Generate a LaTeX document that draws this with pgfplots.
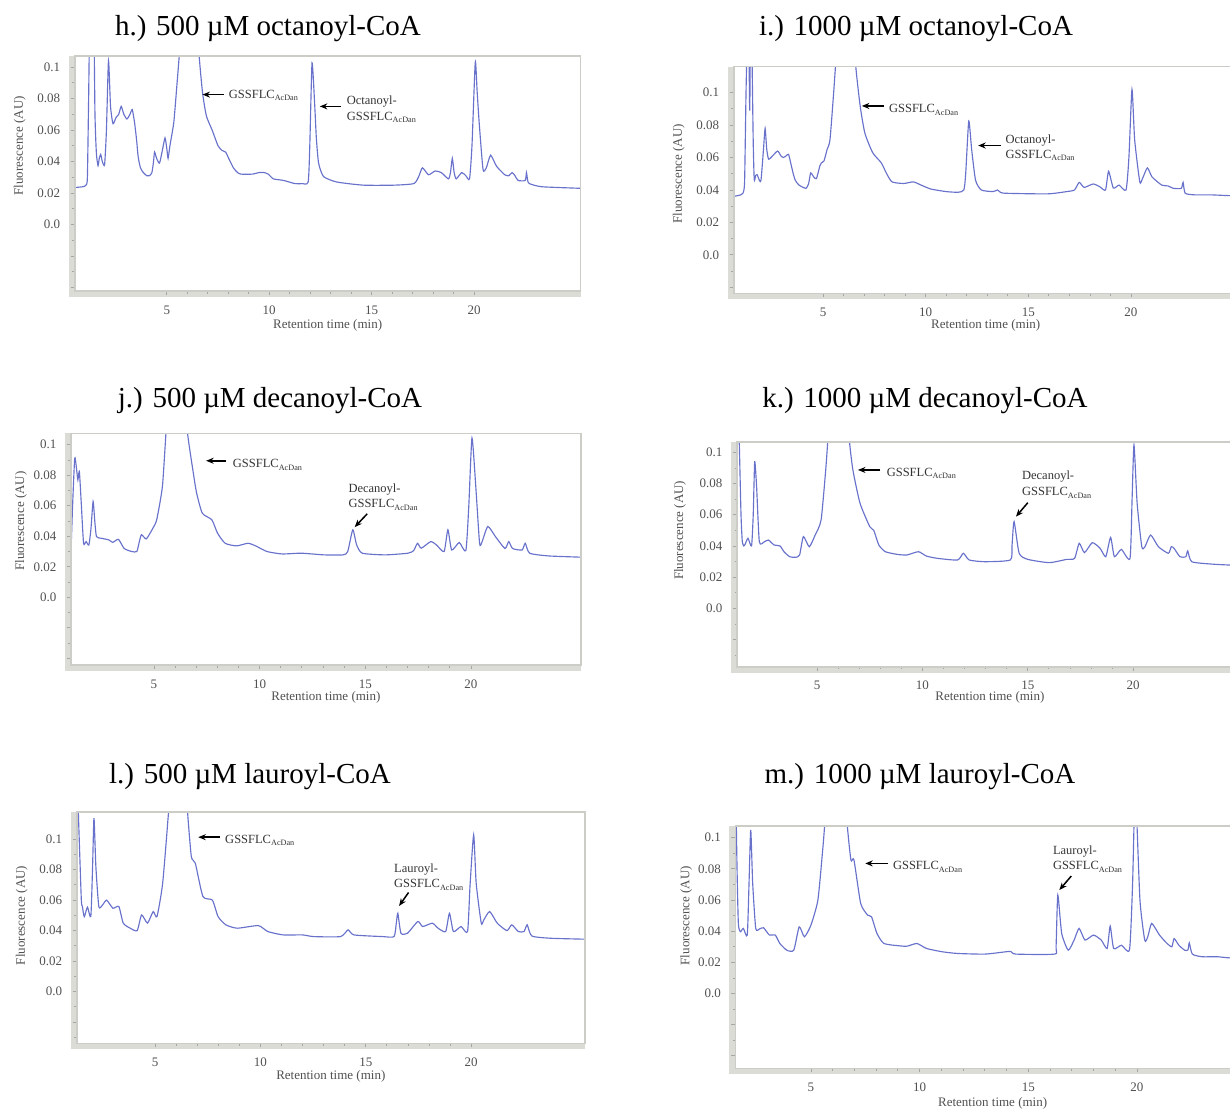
\documentclass[border=0pt]{standalone}
\usepackage{fontspec}
\setmainfont{Liberation Serif}
\usepackage{pgfplots}
\pgfplotsset{compat=1.18}
\usetikzlibrary{arrows.meta}
\definecolor{trace}{RGB}{105,114,203}
\definecolor{frame}{RGB}{205,205,200}
\definecolor{band}{RGB}{220,220,214}
\definecolor{lab}{RGB}{80,80,80}
\pgfplotsset{
 chrom/.style={
  scale only axis, anchor=north west, clip mode=individual, axis on top,
  axis line style={draw=frame, line width=1.6pt},
  tick pos=left, tick align=outside,
  xtick={5,10,15,20}, minor x tick num=4,
  ytick={-0.04,-0.02,0,0.02,0.04,0.06,0.08,0.1},
  yticklabels={{},{},0.0,0.02,0.04,0.06,0.08,0.1},
  minor y tick num=1,
  major tick length=4pt, minor tick length=2.5pt,
  tick style={draw=black!35, line width=0.8pt},
  tick label style={font=\fontsize{13}{15}\selectfont, text=lab},
  /pgf/number format/assume math mode=true,
  xticklabel style={yshift=-7pt},
  yticklabel style={xshift=-7pt},
 },
 tr/.style={draw=trace, line width=1.15pt, no marks, smooth, tension=0.35},
}
\tikzset{
 arr/.style={-{Stealth[length=7.5pt,width=6pt]}, line width=1.5pt, black},
 ann/.style={font=\fontsize{12.5}{14}\selectfont, text=black!80, anchor=west, inner sep=0pt},
 ttl/.style={font=\fontsize{29}{32}\selectfont, anchor=base},
 lbl/.style={font=\fontsize{13}{15}\selectfont, text=lab},
}
\newcommand\gss{GSSFLC\raisebox{-2.5pt}{\fontsize{8.2}{9}\selectfont AcDan}}
\begin{document}
\begin{tikzpicture}
\useasboundingbox (0,0) rectangle (1230pt,-1110pt);
% titles
\node[ttl] at (268pt,-36pt) {h.) 500 µM octanoyl-CoA};
\node[ttl] at (916pt,-36pt) {i.) 1000 µM octanoyl-CoA};
\node[ttl] at (270pt,-407pt) {j.) 500 µM decanoyl-CoA};
\node[ttl] at (925pt,-407pt) {k.) 1000 µM decanoyl-CoA};
\node[ttl] at (250pt,-783pt) {l.) 500 µM lauroyl-CoA};
\node[ttl] at (920pt,-783pt) {m.) 1000 µM lauroyl-CoA};

% ---------- h ----------
\begin{axis}[chrom, at={(74.7pt,-56pt)}, width=505.8pt, height=235pt,
  xmin=0.5, xmax=25.2, ymin=-0.0422, ymax=0.107]
\fill[band] ([xshift=-6pt,yshift=-6pt]rel axis cs:0,0) rectangle (rel axis cs:0,1);
\fill[band] ([xshift=-6pt,yshift=-6pt]rel axis cs:0,0) rectangle (rel axis cs:1,0);
\addplot[tr] coordinates {(0.5,0.0235)(0.9,0.024)(1.05,0.025)(1.12,0.03)(1.18,0.08)(1.25,0.14)(1.42,0.14)(1.49,0.07)(1.56,0.045)(1.64,0.0374)(1.7,0.042)(1.77,0.0445)(1.85,0.04)(1.96,0.038)(2.05,0.06)(2.15,0.104)(2.25,0.075)(2.37,0.064)(2.52,0.068)(2.65,0.07)(2.77,0.075)(2.9,0.07)(3.05,0.067)(3.2,0.07)(3.31,0.073)(3.42,0.065)(3.52,0.054)(3.6,0.043)(3.71,0.036)(3.85,0.033)(4.02,0.031)(4.15,0.031)(4.27,0.033)(4.35,0.04)(4.40,0.046)(4.5,0.042)(4.64,0.039)(4.78,0.047)(4.91,0.055)(5.0,0.048)(5.06,0.042)(5.15,0.05)(5.34,0.065)(5.5,0.09)(5.62,0.11)(5.8,0.15)(6.4,0.15)(6.56,0.11)(6.74,0.084)(6.93,0.069)(7.21,0.060)(7.5,0.050)(7.7,0.047)(7.87,0.046)(8.02,0.042)(8.25,0.036)(8.45,0.033)(8.62,0.032)(9.18,0.032)(9.5,0.033)(9.75,0.033)(9.95,0.032)(10.2,0.029)(10.7,0.028)(11.25,0.026)(11.6,0.026)(11.9,0.027)(11.98,0.05)(12.09,0.1026)(12.22,0.076)(12.3,0.055)(12.41,0.039)(12.65,0.0305)(13.3,0.027)(14.6,0.025)(16.1,0.025)(17.06,0.026)(17.3,0.0305)(17.48,0.036)(17.78,0.0316)(18.1,0.034)(18.4,0.033)(18.75,0.029)(18.85,0.033)(18.94,0.042)(19.03,0.033)(19.13,0.029)(19.4,0.033)(19.6,0.031)(19.78,0.029)(19.9,0.05)(20.06,0.103)(20.15,0.085)(20.25,0.065)(20.44,0.035)(20.6,0.036)(20.81,0.044)(21.1,0.037)(21.5,0.0316)(21.7,0.031)(21.86,0.033)(22.0,0.031)(22.15,0.028)(22.5,0.028)(22.56,0.033)(22.62,0.028)(22.7,0.026)(23.3,0.024)(25.2,0.023)};
\node[lbl, xshift=-55pt, rotate=90] at ({rel axis cs:0,0}|-{axis cs:5,0.05}) {Fluorescence (AU)};
\node[lbl] at ([yshift=-34pt]rel axis cs:0.5,0) {Retention time (min)};
\draw[arr] (axis cs:7.78,0.0825) -- (axis cs:6.74,0.0825);
\node[ann] at (axis cs:8.02,0.082) {\gss};
\draw[arr] (axis cs:13.5,0.075) -- (axis cs:12.47,0.075);
\node[ann] at (axis cs:13.78,0.078) {Octanoyl-};
\node[ann] at (axis cs:13.78,0.068) {\gss};
\end{axis}

% ---------- i ----------
\begin{axis}[chrom, at={(733.7pt,-66.7pt)}, width=504pt, height=226.6pt,
  xmin=0.65, xmax=25.2, ymin=-0.0237, ymax=0.116]
\fill[band] ([xshift=-6pt,yshift=-6pt]rel axis cs:0,0) rectangle (rel axis cs:0,1);
\fill[band] ([xshift=-6pt,yshift=-6pt]rel axis cs:0,0) rectangle (rel axis cs:1,0);
\addplot[tr] coordinates {(0.65,0.036)(1.0,0.037)(1.1,0.038)(1.18,0.045)(1.25,0.10)(1.32,0.14)(1.38,0.14)(1.43,0.089)(1.47,0.14)(1.52,0.14)(1.6,0.07)(1.65,0.0464)(1.72,0.049)(1.79,0.0495)(1.9,0.046)(1.98,0.046)(2.1,0.065)(2.18,0.078)(2.26,0.065)(2.35,0.059)(2.54,0.061)(2.79,0.064)(2.95,0.061)(3.07,0.060)(3.2,0.061)(3.32,0.062)(3.42,0.057)(3.54,0.0505)(3.65,0.046)(3.83,0.043)(4.17,0.041)(4.3,0.044)(4.40,0.0505)(4.55,0.048)(4.68,0.047)(4.85,0.055)(4.92,0.0567)(5.05,0.058)(5.2,0.065)(5.34,0.071)(5.53,0.102)(5.68,0.13)(5.8,0.15)(6.45,0.15)(6.59,0.117)(6.81,0.0918)(7.04,0.075)(7.42,0.063)(7.84,0.0567)(8.08,0.0505)(8.36,0.045)(8.93,0.044)(9.4,0.045)(9.78,0.043)(10.25,0.0406)(11.0,0.039)(11.58,0.0386)(11.86,0.040)(11.95,0.05)(12.1,0.0825)(12.24,0.065)(12.43,0.046)(12.71,0.040)(13.28,0.039)(13.5,0.040)(13.6,0.039)(13.85,0.038)(15.93,0.0376)(16.87,0.039)(17.25,0.040)(17.48,0.0447)(17.72,0.0416)(18.16,0.0437)(18.48,0.042)(18.76,0.040)(18.91,0.0515)(19.14,0.0412)(19.42,0.043)(19.76,0.040)(19.9,0.06)(20.05,0.102)(20.18,0.071)(20.43,0.045)(20.56,0.047)(20.8,0.0536)(21.03,0.048)(21.5,0.043)(21.8,0.0425)(22.07,0.041)(22.45,0.041)(22.54,0.0447)(22.64,0.038)(23.1,0.037)(23.87,0.037)(24.8,0.0365)(25.4,0.0365)};
\node[lbl, xshift=-55pt, rotate=90] at ({rel axis cs:0,0}|-{axis cs:5,0.05}) {Fluorescence (AU)};
\node[lbl] at ([yshift=-32pt]rel axis cs:0.5,0) {Retention time (min)};
\draw[arr] (axis cs:7.99,0.0918) -- (axis cs:6.89,0.0918);
\node[ann] at (axis cs:8.21,0.0893) {\gss};
\draw[arr] (axis cs:13.66,0.0674) -- (axis cs:12.56,0.0674);
\node[ann] at (axis cs:13.88,0.0705) {Octanoyl-};
\node[ann] at (axis cs:13.88,0.0612) {\gss};
\end{axis}

% ---------- j ----------
\begin{axis}[chrom, at={(70.9pt,-433.3pt)}, width=509.9pt, height=231.7pt,
  xmin=1.07, xmax=25.2, ymin=-0.0444, ymax=0.1075]
\fill[band] ([xshift=-6pt,yshift=-6pt]rel axis cs:0,0) rectangle (rel axis cs:0,1);
\fill[band] ([xshift=-6pt,yshift=-6pt]rel axis cs:0,0) rectangle (rel axis cs:1,0);
\addplot[tr] coordinates {(1.07,0.0278)(1.15,0.06)(1.25,0.0912)(1.33,0.085)(1.40,0.077)(1.47,0.0825)(1.56,0.0617)(1.67,0.0354)(1.79,0.0365)(1.92,0.0343)(2.02,0.045)(2.12,0.0628)(2.2,0.05)(2.28,0.0398)(2.51,0.0387)(2.87,0.0376)(3.05,0.036)(3.32,0.038)(3.59,0.032)(3.95,0.030)(4.19,0.030)(4.3,0.036)(4.41,0.041)(4.64,0.0383)(4.95,0.0453)(5.13,0.0508)(5.40,0.0726)(5.58,0.11)(5.8,0.15)(6.4,0.15)(6.57,0.11)(6.84,0.0836)(7.02,0.0683)(7.29,0.0551)(7.74,0.0508)(8.01,0.042)(8.37,0.0354)(8.91,0.0337)(9.45,0.0354)(9.81,0.0337)(10.35,0.030)(11.07,0.0284)(11.97,0.0289)(13.05,0.0278)(13.95,0.0278)(14.17,0.030)(14.41,0.0442)(14.59,0.0344)(14.86,0.0289)(15.94,0.0278)(17.02,0.0289)(17.29,0.0306)(17.47,0.0354)(17.65,0.0322)(18.1,0.0365)(18.37,0.0343)(18.73,0.030)(18.91,0.0442)(19.09,0.031)(19.45,0.0359)(19.76,0.0306)(19.9,0.06)(20.05,0.1044)(20.23,0.0726)(20.41,0.0354)(20.53,0.0365)(20.8,0.0464)(21.16,0.0398)(21.61,0.032)(21.79,0.0365)(21.97,0.032)(22.42,0.031)(22.57,0.0354)(22.78,0.0289)(23.68,0.0271)(25.2,0.0263)};
\node[lbl, xshift=-50pt, rotate=90] at ({rel axis cs:0,0}|-{axis cs:5,0.05}) {Fluorescence (AU)};
\node[lbl] at ([yshift=-32pt]rel axis cs:0.5,0) {Retention time (min)};
\draw[arr] (axis cs:8.41,0.0895) -- (axis cs:7.47,0.0895);
\node[ann] at (axis cs:8.73,0.0869) {\gss};
\node[ann] at (axis cs:14.2,0.0709) {Decanoyl-};
\node[ann] at (axis cs:14.2,0.0606) {\gss};
\draw[arr] (axis cs:15.09,0.0547) -- (axis cs:14.5,0.046);
\end{axis}

% ---------- k ----------
\begin{axis}[chrom, at={(737pt,-441.7pt)}, width=505.7pt, height=225pt,
  xmin=1.2, xmax=25.2, ymin=-0.0374, ymax=0.1068]
\fill[band] ([xshift=-6pt,yshift=-6pt]rel axis cs:0,0) rectangle (rel axis cs:0,1);
\fill[band] ([xshift=-6pt,yshift=-6pt]rel axis cs:0,0) rectangle (rel axis cs:1,0);
\addplot[tr] coordinates {(1.2,0.15)(1.3,0.11)(1.39,0.06)(1.45,0.043)(1.52,0.040)(1.57,0.0406)(1.72,0.0449)(1.89,0.040)(1.97,0.06)(2.04,0.094)(2.13,0.078)(2.26,0.0427)(2.5,0.0427)(2.69,0.0438)(2.96,0.0406)(3.24,0.040)(3.43,0.0363)(3.7,0.0331)(3.98,0.0327)(4.17,0.0342)(4.35,0.046)(4.63,0.0395)(4.91,0.047)(5.19,0.0566)(5.41,0.0887)(5.52,0.11)(5.7,0.15)(6.4,0.15)(6.52,0.11)(6.70,0.0887)(7.04,0.0673)(7.5,0.0524)(7.69,0.050)(7.93,0.0406)(8.24,0.0363)(8.8,0.0346)(9.26,0.0342)(9.81,0.0363)(10.19,0.0335)(10.74,0.032)(11.67,0.031)(11.94,0.0353)(12.22,0.031)(12.96,0.0299)(14.17,0.031)(14.25,0.04)(14.35,0.0556)(14.59,0.0353)(15.0,0.0314)(16.02,0.0293)(16.85,0.0314)(17.22,0.032)(17.44,0.0417)(17.69,0.0357)(18.06,0.0421)(18.43,0.0385)(18.7,0.0331)(18.93,0.0455)(19.11,0.0331)(19.44,0.0378)(19.85,0.032)(19.95,0.07)(20.04,0.1047)(20.19,0.0673)(20.41,0.0395)(20.56,0.0395)(20.83,0.047)(21.2,0.0395)(21.67,0.0353)(21.81,0.0395)(21.94,0.0385)(22.22,0.0331)(22.5,0.0331)(22.59,0.0368)(22.78,0.0299)(23.7,0.0284)(24.5,0.0278)(25.4,0.0275)};
\node[lbl, xshift=-57pt, rotate=90] at ({rel axis cs:0,0}|-{axis cs:5,0.05}) {Fluorescence (AU)};
\node[lbl] at ([yshift=-31pt]rel axis cs:0.5,0) {Retention time (min)};
\draw[arr] (axis cs:8.0,0.0887) -- (axis cs:6.94,0.0887);
\node[ann] at (axis cs:8.3,0.0865) {\gss};
\node[ann] at (axis cs:14.72,0.0844) {Decanoyl-};
\node[ann] at (axis cs:14.72,0.0741) {\gss};
\draw[arr] (axis cs:15.0,0.0677) -- (axis cs:14.44,0.0588);
\end{axis}

% ---------- l ----------
\begin{axis}[chrom, at={(76.7pt,-811.7pt)}, width=508.2pt, height=231.6pt,
  xmin=1.28, xmax=25.4, ymin=-0.0339, ymax=0.118]
\fill[band] ([xshift=-6pt,yshift=-6pt]rel axis cs:0,0) rectangle (rel axis cs:0,1);
\fill[band] ([xshift=-6pt,yshift=-6pt]rel axis cs:0,0) rectangle (rel axis cs:1,0);
\addplot[tr] coordinates {(1.28,0.15)(1.4,0.10)(1.5,0.06)(1.55,0.0558)(1.64,0.0492)(1.79,0.0554)(1.95,0.0492)(2.03,0.08)(2.10,0.1138)(2.19,0.082)(2.33,0.0558)(2.51,0.0569)(2.7,0.060)(3.0,0.0547)(3.28,0.0558)(3.49,0.0449)(3.82,0.0416)(4.15,0.040)(4.36,0.0503)(4.64,0.0449)(4.91,0.0525)(5.09,0.0492)(5.36,0.0711)(5.64,0.118)(5.8,0.15)(6.4,0.15)(6.54,0.118)(6.72,0.0886)(6.91,0.0842)(7.27,0.0624)(7.72,0.060)(7.99,0.0492)(8.36,0.0438)(8.9,0.0416)(9.9,0.0433)(10.35,0.0394)(11.08,0.0372)(11.99,0.0372)(12.53,0.0361)(13.8,0.0361)(14.16,0.0405)(14.44,0.0372)(15.8,0.0361)(16.34,0.0361)(16.45,0.045)(16.52,0.0514)(16.67,0.0383)(16.98,0.0383)(17.47,0.046)(17.7,0.0427)(18.16,0.0449)(18.43,0.0416)(18.79,0.0394)(18.97,0.0514)(19.16,0.0394)(19.52,0.0427)(19.83,0.0394)(19.95,0.07)(20.12,0.1028)(20.24,0.0711)(20.48,0.0449)(20.6,0.047)(20.88,0.0525)(21.24,0.0449)(21.7,0.040)(21.93,0.0438)(22.24,0.0394)(22.51,0.0394)(22.66,0.0438)(22.88,0.0365)(23.78,0.035)(25.4,0.0344)};
\node[lbl, xshift=-55pt, rotate=90] at ({rel axis cs:0,0}|-{axis cs:5,0.05}) {Fluorescence (AU)};
\node[lbl] at ([yshift=-33pt]rel axis cs:0.5,0) {Retention time (min)};
\draw[arr] (axis cs:8.09,0.1013) -- (axis cs:7.05,0.1013);
\node[ann] at (axis cs:8.32,0.0991) {\gss};
\node[ann] at (axis cs:16.34,0.0799) {Lauroyl-};
\node[ann] at (axis cs:16.34,0.070) {\gss};
\draw[arr] (axis cs:17.03,0.065) -- (axis cs:16.58,0.0562);
\end{axis}

% ---------- m ----------
\begin{axis}[chrom, at={(735.3pt,-826pt)}, width=514.6pt, height=242.3pt,
  xmin=1.52, xmax=25.2, ymin=-0.048, ymax=0.1075]
\fill[band] ([xshift=-6pt,yshift=-6pt]rel axis cs:0,0) rectangle (rel axis cs:0,1);
\fill[band] ([xshift=-6pt,yshift=-6pt]rel axis cs:0,0) rectangle (rel axis cs:1,0);
\addplot[tr] coordinates {(1.52,0.15)(1.6,0.08)(1.66,0.045)(1.75,0.0396)(1.89,0.0418)(2.07,0.0375)(2.15,0.07)(2.23,0.105)(2.32,0.0707)(2.46,0.0418)(2.64,0.0415)(2.82,0.0422)(3.09,0.0375)(3.36,0.0375)(3.57,0.0321)(3.89,0.0278)(4.21,0.0278)(4.46,0.0428)(4.7,0.0364)(5.0,0.0439)(5.32,0.060)(5.54,0.092)(5.64,0.11)(5.8,0.15)(6.5,0.15)(6.66,0.11)(6.84,0.0857)(6.98,0.0857)(7.29,0.0578)(7.61,0.0503)(7.79,0.0492)(8.04,0.0385)(8.36,0.0321)(9.07,0.0306)(9.43,0.0304)(9.88,0.0321)(10.32,0.0289)(11.04,0.0268)(11.75,0.0257)(13.0,0.0253)(13.98,0.0268)(14.2,0.027)(14.43,0.0253)(16.21,0.0253)(16.28,0.03)(16.36,0.0632)(16.54,0.0385)(16.84,0.0278)(17.11,0.0343)(17.34,0.0418)(17.61,0.0343)(18.0,0.0375)(18.36,0.0343)(18.63,0.0289)(18.77,0.0433)(18.93,0.0289)(19.29,0.031)(19.66,0.0282)(19.8,0.07)(19.89,0.12)(19.97,0.12)(20.14,0.060)(20.36,0.0343)(20.5,0.0364)(20.68,0.045)(21.04,0.0375)(21.39,0.0321)(21.61,0.030)(21.71,0.0353)(21.93,0.031)(22.2,0.0278)(22.35,0.028)(22.41,0.0325)(22.55,0.0253)(23.0,0.0236)(23.71,0.0236)(24.25,0.0229)(25.4,0.0229)};
\node[lbl, xshift=-49pt, rotate=90] at ({rel axis cs:0,0}|-{axis cs:5,0.05}) {Fluorescence (AU)};
\node[lbl] at ([yshift=-35pt]rel axis cs:0.5,0) {Retention time (min)};
\draw[arr] (axis cs:8.54,0.0835) -- (axis cs:7.5,0.0835);
\node[ann] at (axis cs:8.77,0.0814) {\gss};
\node[ann] at (axis cs:16.13,0.091) {Lauroyl-};
\node[ann] at (axis cs:16.13,0.0814) {\gss};
\draw[arr] (axis cs:16.98,0.0754) -- (axis cs:16.43,0.0664);
\end{axis}
\end{tikzpicture}
\end{document}
